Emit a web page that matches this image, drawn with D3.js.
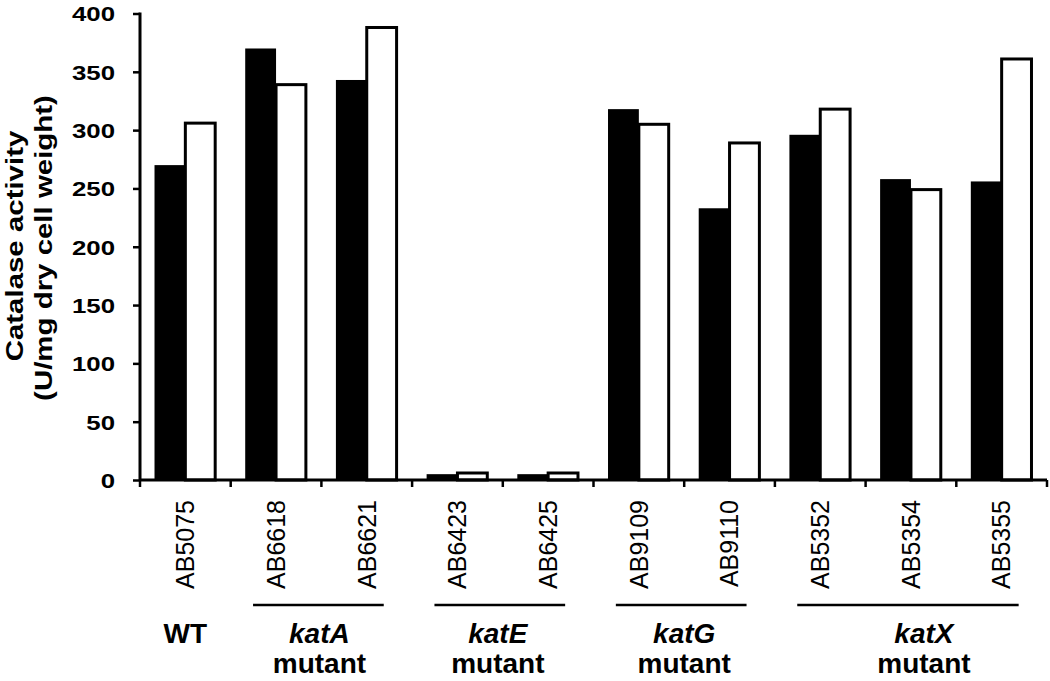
<!DOCTYPE html>
<html>
<head>
<meta charset="utf-8">
<script src="https://cdn.jsdelivr.net/npm/d3@7"></script>
<style>
  html, body { margin: 0; padding: 0; background: #fff; }
  svg { display: block; }
</style>
</head>
<body>
<svg id="chart" width="1050" height="681"></svg>
<script>
// ---- data ----
const categories = ["AB5075","AB6618","AB6621","AB6423","AB6425","AB9109","AB9110","AB5352","AB5354","AB5355"];
const blackValues = [270, 370, 343, 5, 5, 318, 233, 296, 258, 256];
const whiteValues = [306, 339, 388, 6, 6, 305, 289, 318, 249, 361];
const yTickValues = [0, 50, 100, 150, 200, 250, 300, 350, 400];
const groupNames = ["WT", "katA", "katE", "katG", "katX"];
const groupMembers = [[0], [1, 2], [3, 4], [5, 6], [7, 8, 9]];
const groupIsMutant = [false, true, true, true, true];
const yTitleLines = ["Catalase activity", "(U/mg dry cell weight)"];

// ---- layout ----
const svg = d3.select("#chart");
const x0 = 140, x1 = 1047, yBase = 480, yTop = 13.5;

const x = d3.scaleBand().domain(categories).range([x0, x1])
  .paddingInner(0.32).paddingOuter(0.16);
const sub = d3.scaleBand().domain(["black", "white"]).range([0, x.bandwidth()]);
const y = d3.scaleLinear().domain([0, 400]).range([yBase, yTop]);

const step = x.step();
const font = "'Liberation Sans', Arial, sans-serif";

// bars
const g = svg.append("g");
g.selectAll("rect.black").data(categories).join("rect")
  .attr("class", "black")
  .attr("x", d => x(d) + sub("black"))
  .attr("y", (d, i) => y(blackValues[i]))
  .attr("width", sub.bandwidth())
  .attr("height", (d, i) => y(0) - y(blackValues[i]))
  .attr("fill", "#000");

g.selectAll("rect.white").data(categories).join("rect")
  .attr("class", "white")
  .attr("x", d => x(d) + sub("white"))
  .attr("y", (d, i) => y(whiteValues[i]))
  .attr("width", sub.bandwidth() - 1)
  .attr("height", (d, i) => y(0) - y(whiteValues[i]))
  .attr("fill", "#fff")
  .attr("stroke", "#000")
  .attr("stroke-width", 3);

// y axis
const yAxis = svg.append("g")
  .attr("transform", `translate(${x0},0)`)
  .call(d3.axisLeft(y).tickValues(yTickValues).tickSize(7).tickSizeOuter(0));
yAxis.select(".domain").attr("stroke", "#000").attr("stroke-width", 3)
  .attr("d", `M0,${yTop - 1}V${yBase}`);
yAxis.selectAll(".tick line").attr("stroke", "#000").attr("stroke-width", 2.5);
yAxis.selectAll(".tick text")
  .attr("x", 0)
  .attr("dy", "0.35em")
  .attr("transform", "translate(-25,0) scale(1.23,1)")
  .attr("font-family", font)
  .attr("font-weight", "bold")
  .attr("font-size", 21)
  .attr("fill", "#000");

// x axis (ticks at category boundaries)
const boundaries = d3.range(categories.length + 1).map(i => x0 + i * step);
svg.append("line")
  .attr("x1", x0).attr("x2", x1)
  .attr("y1", yBase).attr("y2", yBase)
  .attr("stroke", "#000").attr("stroke-width", 3);
svg.selectAll("line.xtick").data(boundaries).join("line")
  .attr("class", "xtick")
  .attr("x1", d => d).attr("x2", d => d)
  .attr("y1", yBase).attr("y2", yBase + 7)
  .attr("stroke", "#000").attr("stroke-width", 2.5);

// category labels
svg.selectAll("text.cat").data(categories).join("text")
  .attr("class", "cat")
  .attr("transform", d => `translate(${x(d) + x.bandwidth() / 2},500) rotate(-90)`)
  .attr("dy", "0.35em")
  .attr("text-anchor", "end")
  .attr("font-family", font)
  .attr("font-size", 25)
  .attr("fill", "#000")
  .text(d => d);

// y title
svg.append("text")
  .attr("transform", "translate(23,246) rotate(-90) scale(1.28,1)")
  .attr("text-anchor", "middle")
  .attr("font-family", font).attr("font-weight", "bold").attr("font-size", 23)
  .text(yTitleLines[0]);
svg.append("text")
  .attr("transform", "translate(52,248) rotate(-90) scale(1.28,1)")
  .attr("text-anchor", "middle")
  .attr("font-family", font).attr("font-weight", "bold").attr("font-size", 23)
  .text(yTitleLines[1]);

// groups
const groupShift = [0, -2, -5, 0, 13];
groupNames.forEach((name, gi) => {
  const mem = groupMembers[gi].map(i => categories[i]);
  const firstC = x(mem[0]) + x.bandwidth() / 2;
  const lastC = x(mem[mem.length - 1]) + x.bandwidth() / 2;
  const cx = (firstC + lastC) / 2 + groupShift[gi];
  if (groupIsMutant[gi]) {
    svg.append("line")
      .attr("x1", firstC - 23).attr("x2", lastC + 17)
      .attr("y1", 605).attr("y2", 605)
      .attr("stroke", "#000").attr("stroke-width", 2.5);
  }
  svg.append("text")
    .attr("x", cx).attr("y", 643)
    .attr("text-anchor", "middle")
    .attr("font-family", font).attr("font-weight", "bold").attr("font-size", 28)
    .attr("font-style", groupIsMutant[gi] ? "italic" : "normal")
    .text(name);
  if (groupIsMutant[gi]) {
    svg.append("text")
      .attr("x", cx).attr("y", 673)
      .attr("text-anchor", "middle")
      .attr("font-family", font).attr("font-weight", "bold").attr("font-size", 28)
      .text("mutant");
  }
});
</script>
</body>
</html>
